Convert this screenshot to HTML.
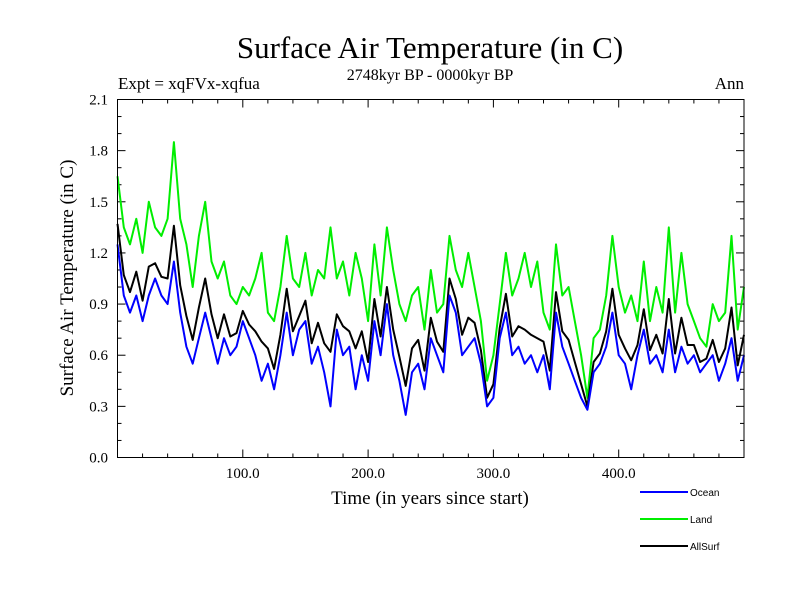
<!DOCTYPE html>
<html><head><meta charset="utf-8"><style>
body{margin:0;background:#fff}
svg text{font-family:"Liberation Serif",serif}
</style></head><body>
<svg id="chart" width="800" height="600" xmlns="http://www.w3.org/2000/svg">
<text x="430" y="58" font-size="31" text-anchor="middle">Surface Air Temperature (in C)</text>
<text x="430" y="80" font-size="16" text-anchor="middle">2748kyr BP - 0000kyr BP</text>
<text x="118" y="89" font-size="17">Expt = xqFVx-xqfua</text>
<text x="744" y="89" font-size="17" text-anchor="end">Ann</text>
<text x="73" y="278" font-size="19" text-anchor="middle" transform="rotate(-90 73 278)">Surface Air Temperature (in C)</text>
<text x="430" y="504" font-size="19" text-anchor="middle">Time (in years since start)</text>
<g id="ticks"></g>
<g id="series"></g>
<rect x="117.5" y="99.5" width="626.5" height="358" fill="none" stroke="#000" stroke-width="1"/>
<g font-family="Liberation Sans, sans-serif">
<line x1="640" y1="492" x2="688" y2="492" stroke="#0000ff" stroke-width="2"/>
<text x="690" y="496" font-size="10" style="font-family:'Liberation Sans',sans-serif">Ocean</text>
<line x1="640" y1="519" x2="688" y2="519" stroke="#00ee00" stroke-width="2"/>
<text x="690" y="523" font-size="10" style="font-family:'Liberation Sans',sans-serif">Land</text>
<line x1="640" y1="546" x2="688" y2="546" stroke="#000" stroke-width="2"/>
<text x="690" y="550" font-size="10" style="font-family:'Liberation Sans',sans-serif">AllSurf</text>
</g>
</svg>
<script>
const years = [];
for (let y = 0; y <= 500; y += 5) years.push(y);
const ocean = [1.25,0.95,0.85,0.95,0.8,0.95,1.05,0.95,0.9,1.15,0.85,0.65,0.55,0.7,0.85,0.7,0.55,0.7,0.6,0.65,0.8,0.7,0.6,0.45,0.55,0.4,0.6,0.85,0.6,0.75,0.8,0.55,0.65,0.5,0.3,0.75,0.6,0.65,0.4,0.6,0.45,0.8,0.6,0.9,0.6,0.45,0.25,0.5,0.55,0.4,0.7,0.6,0.5,0.95,0.85,0.6,0.65,0.7,0.55,0.3,0.35,0.7,0.85,0.6,0.65,0.55,0.6,0.5,0.6,0.4,0.85,0.65,0.55,0.45,0.35,0.28,0.5,0.55,0.65,0.85,0.6,0.55,0.4,0.6,0.75,0.55,0.6,0.5,0.75,0.5,0.65,0.55,0.6,0.5,0.55,0.6,0.45,0.55,0.7,0.45,0.6];
const land = [1.65,1.35,1.25,1.4,1.2,1.5,1.35,1.3,1.4,1.85,1.4,1.25,1.0,1.3,1.5,1.15,1.05,1.15,0.95,0.9,1.0,0.95,1.05,1.2,0.85,0.8,1.0,1.3,1.05,1.0,1.2,0.95,1.1,1.05,1.35,1.05,1.15,0.95,1.2,1.05,0.8,1.25,0.95,1.35,1.1,0.9,0.8,0.95,1.0,0.75,1.1,0.85,0.9,1.3,1.1,1.0,1.2,1.0,0.8,0.45,0.6,0.9,1.2,0.95,1.05,1.2,1.0,1.15,0.85,0.75,1.25,0.95,1.0,0.8,0.6,0.35,0.7,0.75,0.95,1.3,1.0,0.85,0.95,0.8,1.15,0.8,1.0,0.85,1.35,0.85,1.2,0.9,0.8,0.7,0.65,0.9,0.8,0.85,1.3,0.75,1.0];
const allSurf = [1.37,1.07,0.97,1.09,0.92,1.12,1.14,1.06,1.05,1.36,1.01,0.83,0.69,0.88,1.05,0.84,0.70,0.84,0.71,0.73,0.86,0.78,0.74,0.68,0.64,0.52,0.72,0.99,0.74,0.83,0.92,0.67,0.79,0.67,0.62,0.84,0.77,0.74,0.64,0.74,0.56,0.93,0.71,1.0,0.75,0.59,0.42,0.64,0.69,0.51,0.82,0.68,0.62,1.05,0.93,0.72,0.82,0.79,0.63,0.35,0.43,0.76,0.96,0.71,0.77,0.75,0.72,0.70,0.68,0.51,0.97,0.74,0.69,0.56,0.43,0.30,0.56,0.61,0.74,0.99,0.72,0.64,0.57,0.66,0.87,0.63,0.72,0.61,0.93,0.61,0.82,0.66,0.66,0.56,0.58,0.69,0.56,0.64,0.88,0.54,0.72];
const xTickValues = [100, 200, 300, 400];
const xTickLabels = ["100.0", "200.0", "300.0", "400.0"];
const yTickValues = [0, 0.3, 0.6, 0.9, 1.2, 1.5, 1.8, 2.1];
const yTickLabels = ["0.0", "0.3", "0.6", "0.9", "1.2", "1.5", "1.8", "2.1"];

const X0 = 117.5, X1 = 744, Y0 = 457.5, Y1 = 99.5;
const xs = v => X0 + (v - 0) / 500 * (X1 - X0);
const ys = v => Y0 - v / 2.1 * (Y0 - Y1);
const NS = "http://www.w3.org/2000/svg";
const tg = document.getElementById('ticks');
function ln(x1, y1, x2, y2, name) {
  const l = document.createElementNS(NS, 'line');
  l.setAttribute('x1', x1); l.setAttribute('y1', y1); l.setAttribute('x2', x2); l.setAttribute('y2', y2);
  l.setAttribute('stroke', '#000'); l.setAttribute('stroke-width', '1');
  
  
  tg.appendChild(l);
}
for (let v = 20; v < 500; v += 20) {
  const major = v % 100 === 0, L = major ? 8 : 4, x = xs(v);
  ln(x, Y0, x, Y0 - L, 'x-tick');
  ln(x, Y1, x, Y1 + L, 'x-tick-top');
}
for (let i = 1; i < 21; i++) {
  const v = i / 10, major = i % 3 === 0, L = major ? 8 : 4, y = ys(v);
  ln(X0, y, X0 + L, y, 'y-tick');
  ln(X1, y, X1 - L, y, 'y-tick-right');
}
xTickValues.forEach((v, i) => {
  const t = document.createElementNS(NS, 'text');
  t.setAttribute('x', xs(v)); t.setAttribute('y', 478);
  t.setAttribute('font-size', '15'); t.setAttribute('text-anchor', 'middle');
  
  
  t.textContent = xTickLabels[i];
  tg.appendChild(t);
});
yTickValues.forEach((v, i) => {
  const t = document.createElementNS(NS, 'text');
  t.setAttribute('x', 108); t.setAttribute('y', ys(v) + 5);
  t.setAttribute('font-size', '15'); t.setAttribute('text-anchor', 'end');
  
  
  t.textContent = yTickLabels[i];
  tg.appendChild(t);
});
const sg = document.getElementById('series');
function series(vals, color, name) {
  const p = document.createElementNS(NS, 'polyline');
  p.setAttribute('points', vals.map((v, i) => xs(years[i]).toFixed(1) + ',' + ys(v).toFixed(1)).join(' '));
  p.setAttribute('fill', 'none'); p.setAttribute('stroke', color); p.setAttribute('stroke-width', '2');
  p.setAttribute('stroke-linejoin', 'round');
  
  
  sg.appendChild(p);
}
series(land, '#00ee00', 'land-line');
series(allSurf, '#000000', 'allsurf-line');
series(ocean, '#0000ff', 'ocean-line');
</script>
</body></html>
